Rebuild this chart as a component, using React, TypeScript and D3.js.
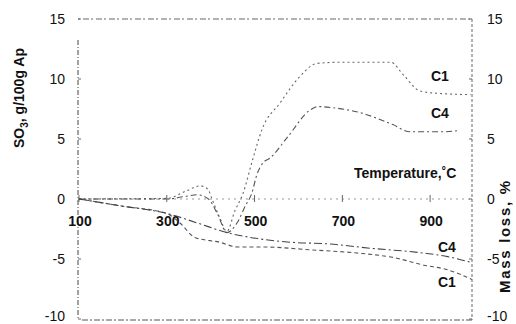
import React from "react";
import * as d3 from "d3";

const xTicks = [100, 300, 500, 700, 900];
const yTicks = [15, 10, 5, 0, -5, -10];

// SO3 content, g/100g Ap (left axis)
const so3C1: [number, number][] = [
  [100, 0], [300, 0.05], [346, 0.7], [376, 1.1], [394, 0.8], [403, 0], [420, -1.5], [437, -2.7],
  [455, -1.0], [474, 0.5], [495, 3.2], [517, 5.8], [558, 8.0], [603, 10.2], [642, 11.3],
  [700, 11.4], [810, 11.4], [840, 10.3], [877, 9.0], [920, 8.8], [992, 8.7],
];
const so3C4: [number, number][] = [
  [100, 0], [300, 0], [340, 0.2], [370, 0.35], [395, 0], [415, -1.2], [437, -2.8], [460, -2.0],
  [480, -0.5], [494, 0.5], [505, 2.0], [519, 3.0], [535, 3.4], [576, 5.2], [626, 7.4],
  [645, 7.7], [680, 7.6], [740, 7.2], [815, 6.2], [854, 5.6], [927, 5.6], [965, 5.7],
];
// Mass loss, % (right axis)
const massC1: [number, number][] = [
  [100, 0], [200, -0.6], [300, -1.2], [330, -2.0], [364, -3.2], [420, -3.6], [462, -4.0],
  [519, -4.0], [633, -4.25], [733, -4.5], [820, -4.9], [884, -5.5], [940, -5.9], [995, -6.7],
];
const massC4: [number, number][] = [
  [100, 0], [200, -0.6], [300, -1.2], [370, -2.0], [437, -2.8], [490, -3.2], [581, -3.6],
  [672, -3.75], [763, -4.1], [884, -4.5], [940, -4.8], [995, -5.3],
];

const W = 516;
const H = 324;

export default function App() {
  const x = d3.scaleLinear().domain([100, 1000]).range([79, 474]);
  const y = d3.scaleLinear().domain([-10, 15]).range([319, 19]);
  const line = d3
    .line<[number, number]>()
    .x((d) => x(d[0]))
    .y((d) => y(d[1]))
    .curve(d3.curveMonotoneX);

  const font = "'Liberation Sans', Arial, sans-serif";
  const left = 78;
  const right = 472;
  const labelY = (t: number) => Math.min(y(t) + 5, 321);

  return (
    <svg
      width={W}
      height={H}
      style={{ position: "absolute", left: 0, top: 0, background: "#fff" }}
      fontFamily={font}
    >
      {/* frame */}
      <line x1={left} x2={right} y1={y(15)} y2={y(15)} stroke="#666" strokeWidth={1} strokeDasharray="2,3,6,2" />
      <line x1={left} x2={left} y1={40} y2={y(-10) + 1} stroke="#444" strokeWidth={1} strokeDasharray="5,2,1,2" />
      <line x1={right} x2={right} y1={y(15)} y2={y(-10) + 1} stroke="#666" strokeWidth={1} strokeDasharray="3,2" />
      <line x1={left + 4} x2={right} y1={y(-10) + 1} y2={y(-10) + 1} stroke="#555" strokeWidth={1} strokeDasharray="6,2,2,2" />
      {/* zero axis */}
      <line x1={left} x2={right} y1={y(0)} y2={y(0)} stroke="#999" strokeWidth={1} strokeDasharray="2,4" />
      {xTicks.map((t) => (
        <line key={"xt" + t} x1={x(t)} x2={x(t)} y1={y(0) - 4} y2={y(0) + 3} stroke="#666" strokeWidth={1} />
      ))}
      {yTicks.map((t) => (
        <g key={"yt" + t}>
          <line x1={left} x2={left + 3} y1={y(t)} y2={y(t)} stroke="#666" />
          <line x1={right - 3} x2={right} y1={y(t)} y2={y(t)} stroke="#666" />
          <text x={65} y={labelY(t)} textAnchor="end" fontSize={14} fill="#111">
            {t}
          </text>
          <text x={487} y={labelY(t)} textAnchor="start" fontSize={14} fill="#111">
            {t}
          </text>
        </g>
      ))}
      {xTicks.map((t) => (
        <text key={"xl" + t} x={x(t) + 1} y={226} textAnchor="middle" fontSize={14} fontWeight="bold" fill="#111">
          {t}
        </text>
      ))}

      {/* curves */}
      <path d={line(so3C1) || ""} fill="none" stroke="#666" strokeWidth={1.1} strokeDasharray="2,3" />
      <path d={line(so3C4) || ""} fill="none" stroke="#555" strokeWidth={1.1} strokeDasharray="6,3,2,3" />
      <path d={line(massC1) || ""} fill="none" stroke="#555" strokeWidth={1.1} strokeDasharray="4,3" />
      <path d={line(massC4) || ""} fill="none" stroke="#444" strokeWidth={1.1} strokeDasharray="8,3,2,3" />

      {/* labels */}
      <text x={431} y={81} fontSize={14} fontWeight="bold" fill="#111">C1</text>
      <text x={431} y={118} fontSize={14} fontWeight="bold" fill="#111">C4</text>
      <text x={438} y={252} fontSize={14} fontWeight="bold" fill="#111">C4</text>
      <text x={438} y={287} fontSize={14} fontWeight="bold" fill="#111">C1</text>
      <text x={354} y={178} fontSize={14} fontWeight="bold" fill="#111">
        Temperature,˚C
      </text>

      {/* axis titles */}
      <text
        transform="translate(24,98) rotate(-90)"
        textAnchor="middle"
        fontSize={14}
        fontWeight="bold"
        fill="#111"
      >
        SO<tspan fontSize={10} dy={4}>3</tspan>
        <tspan dy={-4}>, g/100g Ap</tspan>
      </text>
      <text
        transform="translate(510,237) rotate(-90)"
        textAnchor="middle"
        fontSize={15}
        fontWeight="bold"
        fill="#111"
        textLength={112}
        lengthAdjust="spacing"
      >
        Mass loss, %
      </text>
    </svg>
  );
}
